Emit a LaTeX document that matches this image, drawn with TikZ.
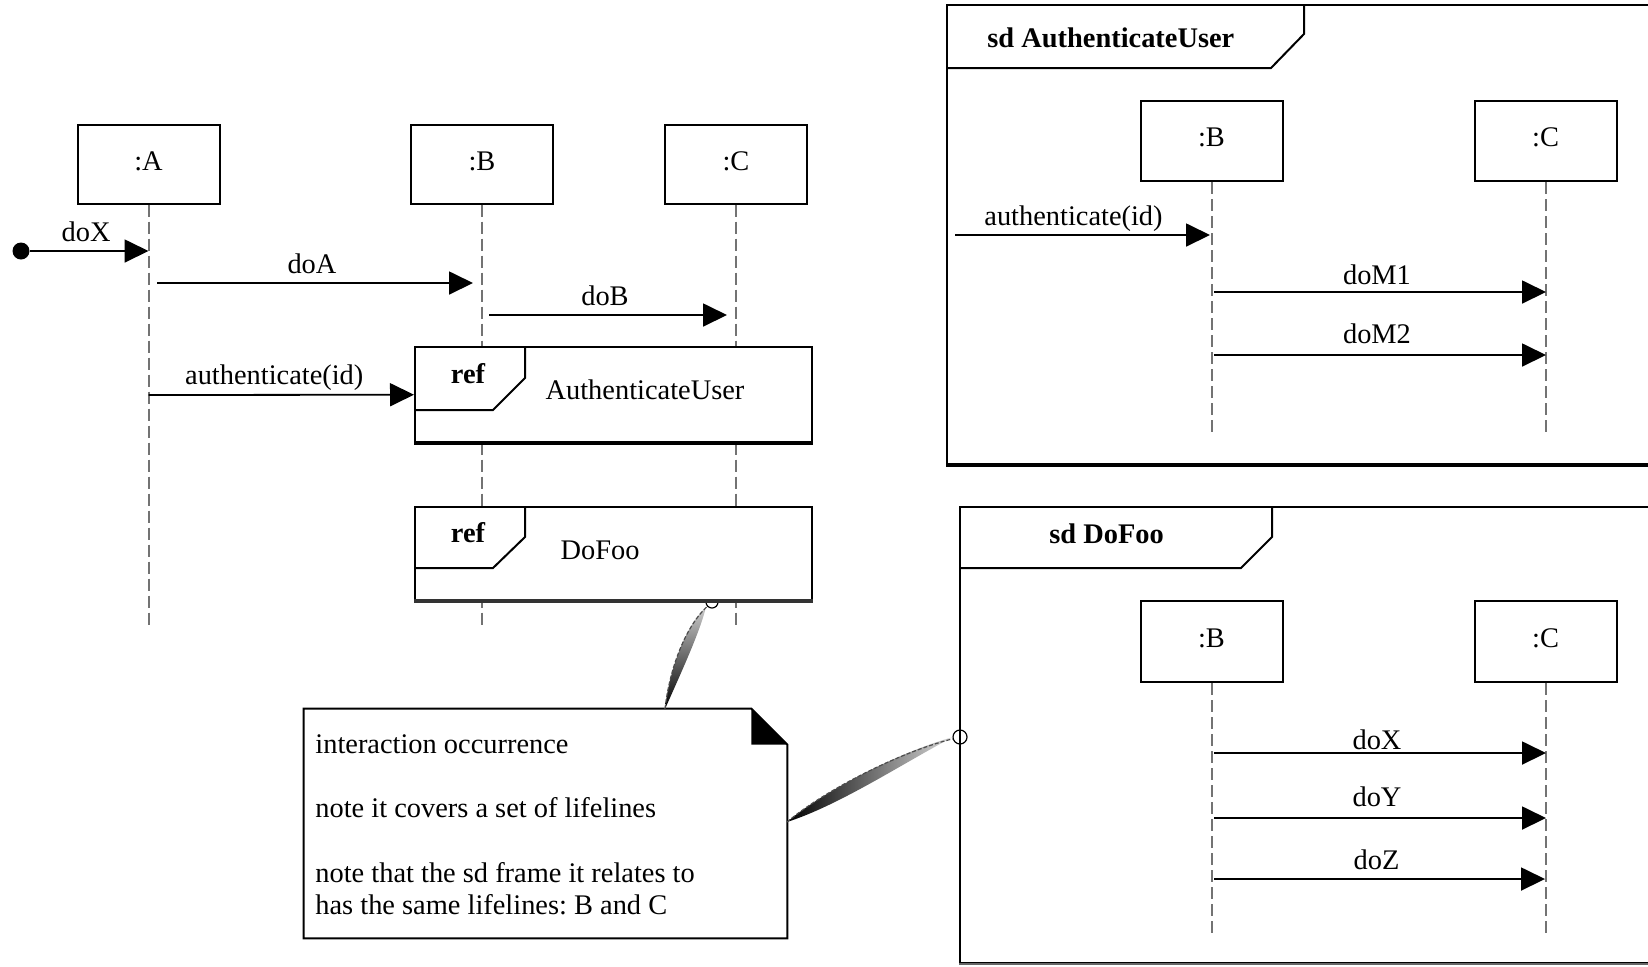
\documentclass[tikz,border=0pt]{standalone}
\usepackage{fontspec}
\setmainfont{Liberation Serif}
\usetikzlibrary{arrows.meta,calc}
\newcommand\diagfont{\fontsize{14.2pt}{16.5pt}\selectfont\frenchspacing}
\begin{document}
\begin{tikzpicture}[x=0.5pt,y=-0.5pt,
  lifebox/.style={draw, line width=1pt, fill=white, minimum width=71pt, minimum height=39.5pt,
                  inner sep=0pt, text depth=3pt, font=\diagfont},
  lifeline/.style={draw=black!55, line width=1pt, dash pattern=on 6pt off 2.5pt},
  msg/.style={line width=0.9pt, -{Triangle[length=12pt,width=11.5pt]}},
  msglbl/.style={anchor=base, inner sep=0pt, yshift=5pt, xshift=-1.5pt, font=\diagfont},
  txt/.style={inner sep=0pt, font=\diagfont},
  btxt/.style={inner sep=0pt, font=\diagfont\bfseries},
  refbox/.style={draw, line width=1pt, fill=white, minimum width=198.5pt, inner sep=0pt},
  tab/.style={line width=1pt, line join=miter},
  sdframe/.style={draw, line width=1pt, inner sep=0pt},
  dot/.style={circle, fill=black, inner sep=0pt, minimum size=8.5pt},
  pin/.style={circle, draw, line width=0.6pt, inner sep=0pt},
  wedgeline/.style={black!70, line width=0.6pt, dash pattern=on 2pt off 1pt},
]
\clip (0,0) rectangle (1648,966);
\fill[white] (0,0) rectangle (1648,966);

% ---------------- main interaction ----------------
\node[lifebox] (A) at (148.5,164) {:A};
\node[lifebox] (B) at (482,164) {:B};
\node[lifebox] (C) at (736,164) {:C};

\coordinate (A-end) at (148.5,625);
\coordinate (B-end) at (482,625);
\coordinate (C-end) at (736,625);
\draw[lifeline] (A) -- (A-end);
\draw[lifeline] (B) -- (B-end);
\draw[lifeline] (C) -- (C-end);

% found message
\node[dot] (start) at (21,251) {};
\coordinate (A-doX) at (148.5,251);
\draw[msg] (start) -- node[msglbl] (l-doX) {doX} (A-doX);

\coordinate (A-doA) at (157,283);
\coordinate (B-doA) at (473,283);
\draw[msg] (A-doA) -- node[msglbl] (l-doA) {doA} (B-doA);

\coordinate (B-doB) at (489,315);
\coordinate (C-doB) at (727,315);
\draw[msg] (B-doB) -- node[msglbl] (l-doB) {doB} (C-doB);

% anchor of the note on the DoFoo occurrence
\node[pin, minimum size=6pt, fill=white] (c1) at (712,602) {};

% interaction occurrences
\node[refbox, minimum height=47.5pt] (ref1) at (613.5,394.5) {};
\draw[tab] ($(ref1.north west)+(111,0)$) -- ++(0,32) -- ++(-32,32) -- ++(-79,0);
\draw[line width=2pt] (ref1.south west) -- (ref1.south east);
\node[btxt, anchor=base] (ref1-kw) at (468,383) {ref};
\node[txt, anchor=base] (ref1-name) at (645,399) {AuthenticateUser};

\node[refbox, minimum height=46.5pt] (ref2) at (613.5,553.5) {};
\draw[tab] ($(ref2.north west)+(111,0)$) -- ++(0,31) -- ++(-32,31) -- ++(-79,0);
\draw[line width=1.6pt, black!80] (ref2.south west) -- (ref2.south east);
\node[btxt, anchor=base] (ref2-kw) at (468,542) {ref};
\node[txt, anchor=base] (ref2-name) at (600,559) {DoFoo};

\coordinate (A-auth) at (148.5,395);
\draw[msg] (A-auth) -- node[msglbl, xshift=-2pt] (l-auth) {authenticate(id)} (ref1);

% ---------------- note ----------------
\node[inner sep=0pt, minimum width=241.5pt, minimum height=114.5pt] (note) at (545.5,823.5) {};
\draw[line width=1pt, fill=white] (note.north west) -- ($(note.north east)+(-36,0)$)
  -- ($(note.north east)+(0,36)$) -- (note.south east) -- (note.south west) -- cycle;
\fill ($(note.north east)+(-36,0)$) -- ($(note.north east)+(-36,36)$) -- ($(note.north east)+(0,36)$) -- cycle;
\node[txt, anchor=base west] (note-l1) at (315,753) {interaction occurrence};
\node[txt, anchor=base west] (note-l2) at (315,817) {note it covers a set of lifelines};
\node[txt, anchor=base west] (note-l3) at (315,882) {note that the sd frame it relates to};
\node[txt, anchor=base west] (note-l4) at (315,914) {has the same lifelines: B and C};

% ---------------- sd AuthenticateUser ----------------
\node[sdframe, minimum width=376.5pt, minimum height=229.5pt] (sd1) at (1323.5,234.5) {};
\draw[tab] ($(sd1.north west)+(358,0)$) -- ++(0,30) -- ++(-33,34) -- ++(-325,0);
\draw[line width=2pt] (sd1.south west) -- (sd1.south east);
\node[btxt, anchor=base west] (sd1-title) at (987,47) {sd AuthenticateUser};

\node[lifebox, minimum height=40pt, text depth=4pt] (B1) at (1211.5,141) {:B};
\node[lifebox, minimum height=40pt, text depth=4pt] (C1) at (1545.5,141) {:C};
\coordinate (B1-end) at (1211.5,435);
\coordinate (C1-end) at (1545.5,435);
\draw[lifeline] (B1) -- (B1-end);
\draw[lifeline] (C1) -- (C1-end);

\coordinate (sd1-in) at (955,235);
\coordinate (B1-auth) at (1210,235);
\draw[msg] (sd1-in) -- node[msglbl, xshift=-3pt] (l-auth1) {authenticate(id)} (B1-auth);
\coordinate (B1-m1) at (1214,292);
\coordinate (C1-m1) at (1546,292);
\draw[msg] (B1-m1) -- node[msglbl, yshift=-1pt] (l-doM1) {doM1} (C1-m1);
\coordinate (B1-m2) at (1214,355);
\coordinate (C1-m2) at (1546,355);
\draw[msg] (B1-m2) -- node[msglbl, yshift=1pt] (l-doM2) {doM2} (C1-m2);

% ---------------- sd DoFoo ----------------
\node[sdframe, minimum width=370pt, minimum height=228pt] (sd2) at (1330,735) {};
\draw[tab] ($(sd2.north west)+(313,0)$) -- ++(0,31) -- ++(-31,31) -- ++(-282,0);
\draw[line width=1.2pt, black!60] (sd2.south west) -- (sd2.south east);
\node[btxt, anchor=base west] (sd2-title) at (1049,543) {sd DoFoo};

\node[lifebox, minimum height=40.5pt] (B2) at (1211.5,641.5) {:B};
\node[lifebox, minimum height=40.5pt] (C2) at (1545.5,641.5) {:C};
\coordinate (B2-end) at (1211.5,935);
\coordinate (C2-end) at (1545.5,935);
\draw[lifeline] (B2) -- (B2-end);
\draw[lifeline] (C2) -- (C2-end);

\coordinate (B2-x) at (1214,753);
\coordinate (C2-x) at (1546,753);
\draw[msg] (B2-x) -- node[msglbl, yshift=-3pt] (l-doX2) {doX} (C2-x);
\coordinate (B2-y) at (1214,818);
\coordinate (C2-y) at (1546,818);
\draw[msg] (B2-y) -- node[msglbl, yshift=1pt] (l-doY) {doY} (C2-y);
\coordinate (B2-z) at (1214,879);
\coordinate (C2-z) at (1545,879);
\draw[msg] (B2-z) -- node[msglbl] (l-doZ) {doZ} (C2-z);

% ---------------- note anchors ----------------
\node[pin, minimum size=7pt] (c2) at (960,737) {};
\coordinate (n1) at (665,709);
\coordinate (n2) at (787,822);

\shade[top color=black!20, bottom color=black]
  (n1) .. controls (669,672) and (684,628) .. (706,607)
       .. controls (700,632) and (680,675) .. (n1) -- cycle;
\draw[wedgeline] (n1) .. controls (669,672) and (684,628) .. (c1);

\shade[left color=black, right color=black!15]
  (n2) .. controls (825,790) and (900,752) .. (953,737)
       .. controls (905,762) and (840,805) .. (n2) -- cycle;
\draw[wedgeline] (n2) .. controls (825,790) and (900,752) .. (c2);
\end{tikzpicture}
\end{document}
